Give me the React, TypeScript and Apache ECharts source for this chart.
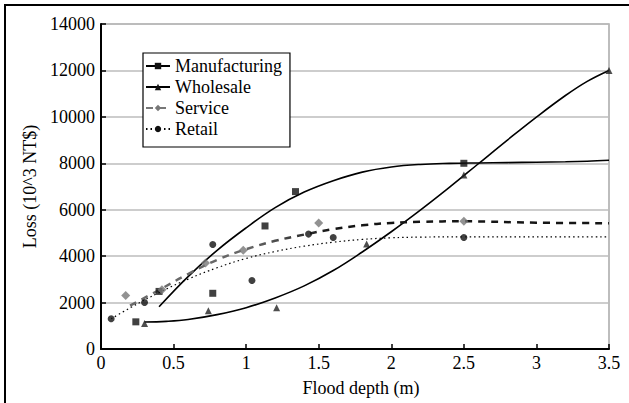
import React, { useEffect, useRef } from "react";
import * as echarts from "echarts";

// Observed losses by sector: [flood depth (m), loss (10^3 NT$)]
const manufacturingPoints: [number, number][] = [
  [0.24, 1170], [0.4, 2480], [0.77, 2400], [1.13, 5300], [1.34, 6780], [2.5, 8000],
];
const wholesalePoints: [number, number][] = [
  [0.3, 1100], [0.74, 1650], [1.21, 1780], [1.83, 4520], [2.5, 7500], [3.5, 12000],
];
const servicePoints: [number, number][] = [
  [0.17, 2300], [0.42, 2550], [0.72, 3700], [0.98, 4250], [1.5, 5430], [2.5, 5500],
];
const retailPoints: [number, number][] = [
  [0.07, 1300], [0.3, 2000], [0.77, 4500], [1.04, 2950], [1.43, 4950], [1.6, 4800], [2.5, 4800],
];

// Fitted depth-damage curves, sampled along each curve
const manufacturingCurve: [number, number][] = [
  [0.4, 1820], [0.6, 3120], [0.8, 4250], [1.0, 5220], [1.2, 6090], [1.4, 6760],
  [1.6, 7250], [1.8, 7620], [2.0, 7840], [2.2, 7950], [2.4, 7995], [2.6, 8015],
  [2.8, 8030], [3.0, 8045], [3.2, 8065], [3.35, 8090], [3.5, 8130],
];
const wholesaleCurve: [number, number][] = [
  [0.3, 1160], [0.45, 1190], [0.6, 1270], [0.8, 1480], [1.0, 1780], [1.2, 2200],
  [1.4, 2720], [1.6, 3380], [1.8, 4180], [2.0, 5050], [2.2, 5980], [2.4, 6960],
  [2.6, 7980], [2.8, 9000], [3.0, 9990], [3.2, 10920], [3.35, 11530], [3.5, 12000],
];
const serviceCurve: [number, number][] = [
  [0.2, 1870], [0.4, 2540], [0.6, 3230], [0.8, 3840], [1.0, 4300], [1.2, 4660],
  [1.4, 4930], [1.6, 5160], [1.8, 5330], [2.0, 5430], [2.2, 5480], [2.5, 5500],
  [3.0, 5440], [3.5, 5420],
];
const retailCurve: [number, number][] = [
  [0.07, 1300], [0.2, 1770], [0.4, 2430], [0.6, 3010], [0.8, 3500], [1.0, 3900],
  [1.2, 4200], [1.4, 4430], [1.6, 4600], [1.8, 4720], [2.0, 4790], [2.2, 4820],
  [2.5, 4830], [3.0, 4830], [3.5, 4830],
];

const sectorNames = ["Manufacturing", "Wholesale", "Service", "Retail"];

const FONT = "Liberation Serif";

export default function App() {
  const ref = useRef<HTMLDivElement>(null);

  useEffect(() => {
    if (!ref.current) return;
    const chart = echarts.init(ref.current, null, { renderer: "svg" });

    const serviceGradient = new echarts.graphic.LinearGradient(0, 0, 1, 0, [
      { offset: 0, color: "#6a6a6a" },
      { offset: 0.25, color: "#666666" },
      { offset: 0.42, color: "#151515" },
      { offset: 1, color: "#151515" },
    ]);

    const option: echarts.EChartsOption = {
      animation: false,
      backgroundColor: "#ffffff",
      textStyle: { fontFamily: FONT, color: "#000" },
      graphic: [
        {
          type: "rect",
          silent: true,
          z: -10,
          shape: { x: 5, y: 5, width: 700, height: 500 },
          style: { fill: "none", stroke: "#000", lineWidth: 2 },
        },
      ],
      grid: {
        left: 101,
        right: 20,
        top: 24,
        bottom: 54,
        show: true,
        borderColor: "#a8a8a8",
        borderWidth: 1.5,
        backgroundColor: "transparent",
      },
      legend: {
        orient: "vertical",
        left: 143,
        top: 53,
        padding: [4, 8, 9, 2],
        itemWidth: 24,
        itemHeight: 8,
        itemGap: 3,
        backgroundColor: "#fff",
        borderColor: "#000",
        borderWidth: 1.2,
        textStyle: { fontFamily: FONT, fontSize: 18, color: "#000" },
        data: [
          { name: sectorNames[0] },
          { name: sectorNames[1] },
          { name: sectorNames[2], lineStyle: { color: "#777" }, itemStyle: { color: "#777" } },
          { name: sectorNames[3] },
        ],
      },
      xAxis: {
        type: "value",
        min: 0,
        max: 3.5,
        interval: 0.5,
        name: "Flood depth (m)",
        nameLocation: "middle",
        nameGap: 30,
        nameTextStyle: { fontFamily: FONT, fontSize: 18, color: "#000", padding: [0, 0, 0, 12] },
        axisLine: { lineStyle: { color: "#000", width: 2 } },
        axisTick: { inside: true, length: 5, lineStyle: { color: "#000", width: 1.5 } },
        axisLabel: {
          fontFamily: FONT,
          fontSize: 18,
          color: "#000",
          margin: 5,
          formatter: (v: number) => String(v),
        },
        splitLine: { show: false },
      },
      yAxis: {
        type: "value",
        min: 0,
        max: 14000,
        interval: 2000,
        name: "Loss (10^3 NT$)",
        nameLocation: "middle",
        nameGap: 60,
        nameTextStyle: { fontFamily: FONT, fontSize: 18, color: "#000" },
        axisLine: { show: true, lineStyle: { color: "#000", width: 2 } },
        axisTick: { show: true, inside: true, length: 5, lineStyle: { color: "#000", width: 1.5 } },
        axisLabel: {
          fontFamily: FONT,
          fontSize: 18,
          color: "#000",
          margin: 6,
          formatter: (v: number) => String(v),
        },
        splitLine: { show: true, lineStyle: { color: "#bdbdbd", width: 1.5 } },
      },
      series: [
        {
          type: "line",
          name: sectorNames[0],
          data: manufacturingCurve,
          smooth: 0.4,
          symbol: "rect",
          showSymbol: false,
          itemStyle: { color: "#111" },
          lineStyle: { color: "#000", width: 1.6 },
          z: 2,
        },
        {
          type: "line",
          name: sectorNames[1],
          data: wholesaleCurve,
          smooth: 0.4,
          symbol: "triangle",
          showSymbol: false,
          itemStyle: { color: "#111" },
          lineStyle: { color: "#000", width: 1.6 },
          z: 2,
        },
        {
          type: "line",
          name: sectorNames[2],
          data: serviceCurve,
          smooth: 0.4,
          symbol: "diamond",
          showSymbol: false,
          itemStyle: { color: "#777" },
          lineStyle: { color: serviceGradient as any, width: 2.5, type: [7, 6] },
          z: 2,
        },
        {
          type: "line",
          name: sectorNames[3],
          data: retailCurve,
          smooth: 0.4,
          symbol: "circle",
          showSymbol: false,
          itemStyle: { color: "#111" },
          lineStyle: { color: "#000", width: 1.2, type: [1.5, 3] },
          z: 2,
        },
        {
          type: "scatter",
          name: sectorNames[0],
          data: manufacturingPoints,
          symbol: "rect",
          symbolSize: 7,
          itemStyle: { color: "#111" },
          z: 3,
        },
        {
          type: "scatter",
          name: sectorNames[1],
          data: wholesalePoints,
          symbol: "triangle",
          symbolSize: 7,
          itemStyle: { color: "#222" },
          z: 3,
        },
        {
          type: "scatter",
          name: sectorNames[2],
          data: servicePoints,
          symbol: "diamond",
          symbolSize: 9,
          itemStyle: { color: "#777" },
          z: 3,
        },
        {
          type: "scatter",
          name: sectorNames[3],
          data: retailPoints,
          symbol: "circle",
          symbolSize: 7,
          itemStyle: { color: "#111" },
          z: 3,
        },
      ],
    };

    chart.setOption(option);
    return () => chart.dispose();
  }, []);

  return (
    <div
      ref={ref}
      style={{ position: "fixed", left: 0, top: 0, width: 629, height: 403, background: "#fff" }}
    />
  );
}
